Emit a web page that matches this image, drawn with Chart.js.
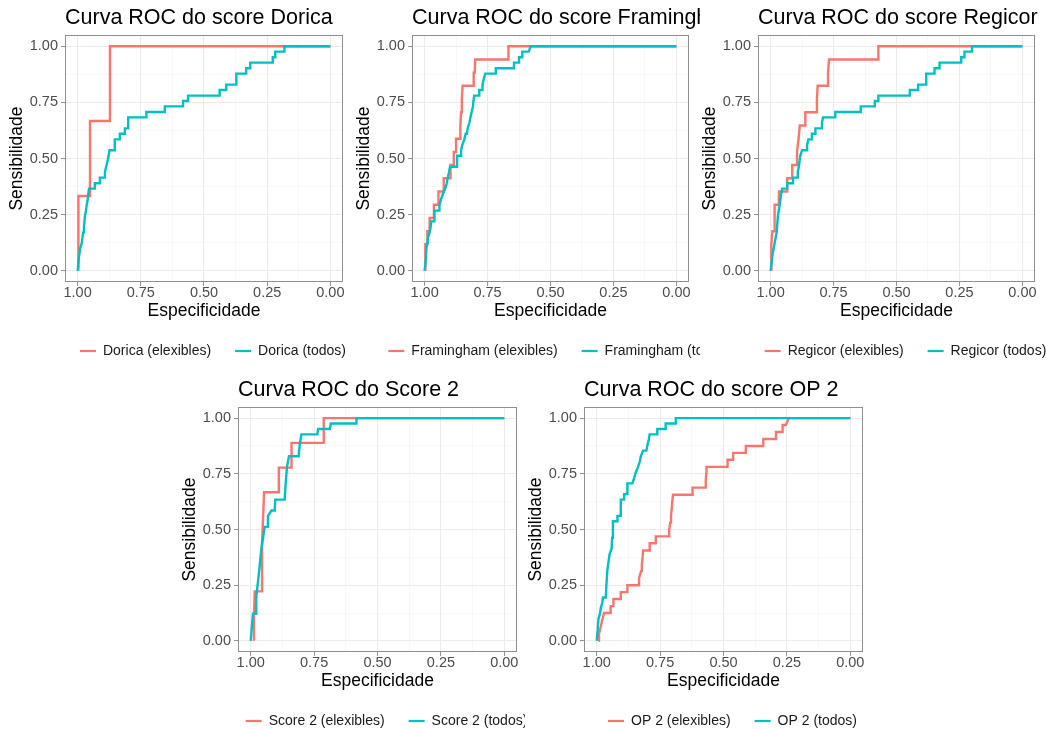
<!DOCTYPE html>
<html><head><meta charset="utf-8">
<script src="https://cdn.jsdelivr.net/npm/chart.js@4.4.1/dist/chart.umd.min.js"></script>
<style>
html,body{margin:0;padding:0;background:#fff;overflow:hidden;width:1046px;height:729px;position:relative;}
canvas{position:absolute;}
</style></head><body>
<canvas id="c1"></canvas><canvas id="c2"></canvas><canvas id="c3"></canvas><canvas id="c4"></canvas><canvas id="c5"></canvas>
<script>
// ---- data: [specificity, sensitivity] vertices of each ROC staircase ----
const majorTicks = [0, 0.25, 0.5, 0.75, 1];
const tickLabels = ['0.00', '0.25', '0.50', '0.75', '1.00'];

const doricaEleg = [[0.997,0],[0.997,0.333],[0.951,0.333],[0.951,0.667],[0.872,0.667],[0.872,1],[0,1]];
const doricaTodos = [[1,0],[0.995,0.06],[0.99,0.1],[0.984,0.122],[0.978,0.171],[0.975,0.195],[0.971,0.244],[0.967,0.268],[0.964,0.293],[0.96,0.317],[0.958,0.341],[0.955,0.366],[0.932,0.366],[0.932,0.39],[0.912,0.39],[0.912,0.415],[0.892,0.415],[0.892,0.439],[0.887,0.463],[0.882,0.488],[0.877,0.512],[0.874,0.537],[0.853,0.537],[0.853,0.585],[0.833,0.585],[0.833,0.61],[0.813,0.61],[0.813,0.634],[0.8,0.634],[0.8,0.683],[0.728,0.683],[0.728,0.707],[0.655,0.707],[0.655,0.732],[0.583,0.732],[0.583,0.756],[0.563,0.756],[0.563,0.78],[0.438,0.78],[0.438,0.805],[0.412,0.805],[0.412,0.829],[0.372,0.829],[0.372,0.878],[0.333,0.878],[0.333,0.902],[0.317,0.902],[0.317,0.927],[0.228,0.927],[0.228,0.951],[0.218,0.951],[0.218,0.976],[0.182,0.976],[0.182,1],[0,1]];

const framEleg = [[0.997,0],[0.997,0.118],[0.989,0.118],[0.989,0.176],[0.98,0.176],[0.98,0.235],[0.963,0.235],[0.963,0.294],[0.945,0.294],[0.945,0.353],[0.924,0.353],[0.924,0.412],[0.897,0.412],[0.897,0.471],[0.884,0.471],[0.884,0.529],[0.875,0.529],[0.875,0.588],[0.858,0.588],[0.858,0.647],[0.855,0.706],[0.852,0.765],[0.849,0.824],[0.805,0.824],[0.805,0.882],[0.801,0.882],[0.799,0.941],[0.667,0.941],[0.667,1],[0,1]];
const framTodos = [[1,0],[0.995,0.049],[0.993,0.098],[0.99,0.122],[0.987,0.146],[0.98,0.171],[0.976,0.195],[0.974,0.22],[0.961,0.22],[0.961,0.268],[0.941,0.268],[0.941,0.293],[0.935,0.317],[0.928,0.341],[0.918,0.366],[0.912,0.39],[0.908,0.415],[0.903,0.439],[0.899,0.463],[0.871,0.463],[0.871,0.512],[0.855,0.512],[0.855,0.537],[0.85,0.561],[0.842,0.585],[0.837,0.61],[0.832,0.61],[0.829,0.634],[0.822,0.659],[0.818,0.683],[0.813,0.707],[0.808,0.732],[0.806,0.756],[0.803,0.78],[0.783,0.78],[0.783,0.805],[0.77,0.805],[0.77,0.829],[0.765,0.854],[0.759,0.878],[0.717,0.878],[0.717,0.902],[0.645,0.902],[0.645,0.927],[0.625,0.927],[0.625,0.951],[0.612,0.951],[0.612,0.976],[0.586,0.976],[0.579,1],[0,1]];

const regicorEleg = [[0.997,0],[0.997,0.118],[0.993,0.176],[0.984,0.176],[0.984,0.294],[0.967,0.294],[0.967,0.353],[0.934,0.353],[0.934,0.412],[0.914,0.412],[0.914,0.471],[0.895,0.471],[0.895,0.529],[0.889,0.588],[0.884,0.647],[0.862,0.647],[0.862,0.706],[0.816,0.706],[0.816,0.765],[0.813,0.824],[0.772,0.824],[0.772,0.882],[0.768,0.941],[0.572,0.941],[0.572,1],[0,1]];
const regicorTodos = [[1,0],[0.992,0.073],[0.984,0.122],[0.976,0.171],[0.971,0.244],[0.964,0.293],[0.958,0.341],[0.954,0.366],[0.934,0.366],[0.934,0.39],[0.911,0.39],[0.911,0.415],[0.892,0.415],[0.892,0.439],[0.888,0.463],[0.882,0.512],[0.875,0.537],[0.855,0.537],[0.855,0.561],[0.85,0.585],[0.836,0.585],[0.836,0.61],[0.822,0.61],[0.822,0.634],[0.796,0.634],[0.796,0.659],[0.792,0.683],[0.743,0.683],[0.743,0.707],[0.642,0.707],[0.642,0.732],[0.586,0.732],[0.586,0.756],[0.572,0.756],[0.572,0.78],[0.447,0.78],[0.447,0.805],[0.414,0.805],[0.414,0.829],[0.382,0.829],[0.382,0.878],[0.349,0.878],[0.349,0.902],[0.329,0.902],[0.329,0.927],[0.243,0.927],[0.243,0.951],[0.23,0.951],[0.23,0.976],[0.2,0.976],[0.2,1],[0,1]];

const score2Eleg = [[0.987,0],[0.987,0.111],[0.984,0.222],[0.955,0.222],[0.955,0.444],[0.951,0.556],[0.947,0.667],[0.889,0.667],[0.889,0.778],[0.839,0.778],[0.839,0.889],[0.712,0.889],[0.712,1],[0,1]];
const score2Todos = [[1,0],[0.991,0.122],[0.978,0.122],[0.978,0.195],[0.971,0.268],[0.964,0.341],[0.958,0.415],[0.951,0.463],[0.945,0.512],[0.932,0.512],[0.932,0.561],[0.918,0.585],[0.905,0.585],[0.903,0.634],[0.866,0.634],[0.862,0.707],[0.857,0.78],[0.849,0.829],[0.811,0.829],[0.807,0.878],[0.8,0.927],[0.737,0.927],[0.734,0.951],[0.688,0.951],[0.684,0.976],[0.583,0.976],[0.583,1],[0,1]];

const op2Eleg = [[0.993,0],[0.991,0.031],[0.984,0.063],[0.978,0.094],[0.971,0.125],[0.945,0.125],[0.945,0.156],[0.934,0.156],[0.934,0.188],[0.905,0.188],[0.905,0.219],[0.879,0.219],[0.879,0.25],[0.833,0.25],[0.833,0.281],[0.825,0.313],[0.822,0.344],[0.819,0.375],[0.817,0.406],[0.791,0.406],[0.791,0.438],[0.767,0.438],[0.767,0.469],[0.714,0.469],[0.714,0.5],[0.71,0.531],[0.707,0.563],[0.704,0.594],[0.702,0.625],[0.699,0.656],[0.622,0.656],[0.622,0.688],[0.57,0.688],[0.57,0.719],[0.568,0.75],[0.567,0.781],[0.484,0.781],[0.484,0.813],[0.462,0.813],[0.462,0.844],[0.412,0.844],[0.412,0.875],[0.343,0.875],[0.343,0.906],[0.293,0.906],[0.293,0.938],[0.267,0.938],[0.267,0.969],[0.254,0.969],[0.243,1],[0,1]];
const op2Todos = [[1,0],[0.996,0.049],[0.993,0.098],[0.987,0.122],[0.984,0.146],[0.978,0.171],[0.975,0.195],[0.964,0.195],[0.962,0.244],[0.958,0.317],[0.952,0.366],[0.949,0.39],[0.941,0.415],[0.939,0.463],[0.936,0.537],[0.918,0.537],[0.918,0.561],[0.905,0.561],[0.905,0.634],[0.892,0.634],[0.892,0.659],[0.879,0.659],[0.879,0.707],[0.859,0.707],[0.852,0.732],[0.846,0.756],[0.837,0.78],[0.83,0.805],[0.826,0.829],[0.817,0.854],[0.804,0.854],[0.8,0.878],[0.795,0.902],[0.791,0.927],[0.761,0.927],[0.761,0.951],[0.728,0.951],[0.728,0.976],[0.688,0.976],[0.688,1],[0,1]];

const scoreNames = ['Dorica', 'Framingham', 'Regicor', 'Score 2', 'OP 2'];
const panelTitles = ['Curva ROC do score Dorica', 'Curva ROC do score Framingham', 'Curva ROC do score Regicor', 'Curva ROC do Score 2', 'Curva ROC do score OP 2'];
const elegSeries = [doricaEleg, framEleg, regicorEleg, score2Eleg, op2Eleg];
const todosSeries = [doricaTodos, framTodos, regicorTodos, score2Todos, op2Todos];

// ---- layout (canvas boxes) ----
const boxes = [
  {id:'c1', left:5,   top:0,   width:345, height:368, padRight:7},
  {id:'c2', left:352, top:0,   width:348, height:368, padRight:11},
  {id:'c3', left:698, top:0,   width:348, height:368, padRight:11},
  {id:'c4', left:178, top:372, width:347, height:366, padRight:8},
  {id:'c5', left:524, top:372, width:351, height:366, padRight:12}
];

const FONT = '"Liberation Sans", Arial, Helvetica, sans-serif';
Chart.defaults.font.family = FONT;
const RED = '#F8766D', CYAN = '#00BFC4';

const isMajor = v => majorTicks.some(m => Math.abs(m - v) < 1e-6);
const labelFor = v => { const i = majorTicks.findIndex(m => Math.abs(m - v) < 1e-6); return i >= 0 ? tickLabels[i] : ''; };

const panelDecor = {
  id: 'panelDecor',
  afterDraw(chart, args, opts) {
    const {ctx, chartArea: a} = chart;
    ctx.save();
    ctx.strokeStyle = '#8f8f8f';
    ctx.lineWidth = 1;
    ctx.strokeRect(Math.round(a.left) + 0.5, Math.round(a.top) + 0.5, Math.round(a.right - a.left) - 1, Math.round(a.bottom - a.top) - 1);
    // title
    ctx.font = '21.5px ' + FONT;
    ctx.fillStyle = '#000';
    ctx.textBaseline = 'middle';
    ctx.textAlign = 'left';
    ctx.fillText(opts.title, a.left, a.top - 17);
    // legend
    ctx.font = '14px ' + FONT;
    const keyW = 16, gap = 7, spacing = 24;
    const items = chart.data.datasets.map(ds => ({text: ds.label, color: ds.borderColor, w: ctx.measureText(ds.label).width}));
    const total = items.reduce((s, it) => s + keyW + gap + it.w, 0) + spacing * (items.length - 1);
    let x = (a.left + a.right) / 2 + 9 - total / 2;
    const y = a.bottom + 69;
    items.forEach(it => {
      ctx.strokeStyle = it.color;
      ctx.lineWidth = 2.2;
      ctx.beginPath(); ctx.moveTo(x, y); ctx.lineTo(x + keyW, y); ctx.stroke();
      ctx.fillStyle = '#1a1a1a';
      ctx.fillText(it.text, x + keyW + gap, y);
      x += keyW + gap + it.w + spacing;
    });
    ctx.restore();
  }
};

function axisCommon(title, extra) {
  return Object.assign({
    type: 'linear', min: -0.05, max: 1.05,
    ticks: {stepSize: 0.125, includeBounds: false, autoSkip: false, maxRotation: 0, color: '#4d4d4d', font: {size: 14.5, lineHeight: 1}, callback: v => labelFor(v)},
    grid: {
      color: c => (c.tick && isMajor(c.tick.value)) ? '#ebebeb' : '#f3f3f3',
      lineWidth: c => (c.tick && isMajor(c.tick.value)) ? 1.1 : 0.6,
      tickLength: 4,
      tickWidth: 1,
      tickColor: c => (c.tick && isMajor(c.tick.value)) ? '#8f8f8f' : 'rgba(0,0,0,0)'
    },
    border: {display: false},
    title: {display: true, text: title, color: '#000', font: {size: 17.5, lineHeight: 1}}
  }, extra);
}

boxes.forEach((b, i) => {
  const cv = document.getElementById(b.id);
  cv.width = b.width; cv.height = b.height;
  cv.style.left = b.left + 'px'; cv.style.top = b.top + 'px';
  cv.style.width = b.width + 'px'; cv.style.height = b.height + 'px';
  const toPts = arr => arr.map(p => ({x: p[0], y: p[1]}));
  new Chart(cv, {
    type: 'scatter',
    data: {
      datasets: [
        {label: scoreNames[i] + ' (elexibles)', data: toPts(elegSeries[i]), showLine: true, borderColor: RED, backgroundColor: RED, borderWidth: 2.4, pointRadius: 0, pointHoverRadius: 0, tension: 0, order: 1},
        {label: scoreNames[i] + ' (todos)', data: toPts(todosSeries[i]), showLine: true, borderColor: CYAN, backgroundColor: CYAN, borderWidth: 2.4, pointRadius: 0, pointHoverRadius: 0, tension: 0, order: 0}
      ]
    },
    options: {
      responsive: false,
      animation: false,
      devicePixelRatio: 1,
      layout: {padding: {top: 35, bottom: 48, left: 0, right: b.padRight}},
      plugins: {
        legend: {display: false},
        tooltip: {enabled: false},
        title: {display: false},
        panelDecor: {title: panelTitles[i]}
      },
      scales: {
        x: axisCommon('Especificidade', {
          reverse: true,
          afterFit: s => { s.height = 38; },
          ticks: {stepSize: 0.125, includeBounds: false, autoSkip: false, maxRotation: 0, padding: 0, color: '#4d4d4d', font: {size: 14.5, lineHeight: 1}, callback: v => labelFor(v)},
          title: {display: true, text: 'Especificidade', color: '#000', font: {size: 17.5, lineHeight: 1}, padding: {top: 0, bottom: 0}}
        }),
        y: axisCommon('Sensibilidade', {
          afterFit: s => { s.width = 60; },
          ticks: {stepSize: 0.125, includeBounds: false, autoSkip: false, padding: 3, color: '#4d4d4d', font: {size: 14.5, lineHeight: 1}, callback: v => labelFor(v)},
          title: {display: true, text: 'Sensibilidade', color: '#000', font: {size: 17.5, lineHeight: 1}, padding: {top: 3.25, bottom: 0}}
        })
      }
    },
    plugins: [panelDecor]
  });
});
</script>
</body></html>
